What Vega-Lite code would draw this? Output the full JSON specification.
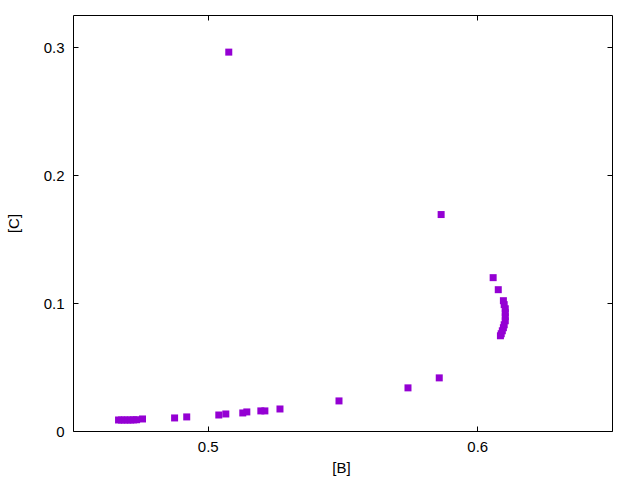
{
  "$schema": "https://vega.github.io/schema/vega-lite/v6.json",
  "autosize": "none",
  "width": 539,
  "height": 416,
  "padding": {"left": 73, "top": 15, "right": 28, "bottom": 49},
  "background": "white",
  "config": {
    "view": {"stroke": "black", "strokeWidth": 1},
    "font": "Liberation Sans",
    "axis": {
      "domain": false,
      "grid": false,
      "tickColor": "black",
      "tickSize": -5,
      "labelFont": "Liberation Sans",
      "labelFontSize": 15,
      "labelColor": "black",
      "titleFont": "Liberation Sans",
      "titleFontSize": 15,
      "titleFontWeight": "normal",
      "titleColor": "black"
    }
  },
  "data": {
    "values": [
      {"B": 0.4669, "C": 0.0086},
      {"B": 0.4680, "C": 0.0086},
      {"B": 0.4691, "C": 0.0086},
      {"B": 0.4703, "C": 0.0086},
      {"B": 0.4714, "C": 0.0086},
      {"B": 0.4725, "C": 0.0087},
      {"B": 0.4736, "C": 0.0088},
      {"B": 0.4758, "C": 0.0094},
      {"B": 0.4877, "C": 0.0102},
      {"B": 0.4922, "C": 0.0110},
      {"B": 0.5041, "C": 0.0125},
      {"B": 0.5067, "C": 0.0133},
      {"B": 0.5130, "C": 0.0141},
      {"B": 0.5145, "C": 0.0149},
      {"B": 0.5197, "C": 0.0157},
      {"B": 0.5212, "C": 0.0157},
      {"B": 0.5268, "C": 0.0172},
      {"B": 0.5487, "C": 0.0235},
      {"B": 0.5743, "C": 0.0337},
      {"B": 0.5859, "C": 0.0415},
      {"B": 0.5866, "C": 0.1691},
      {"B": 0.5078, "C": 0.2960},
      {"B": 0.6059, "C": 0.1198},
      {"B": 0.6078, "C": 0.1104},
      {"B": 0.6097, "C": 0.1018},
      {"B": 0.6100, "C": 0.0987},
      {"B": 0.6104, "C": 0.0955},
      {"B": 0.6104, "C": 0.0924},
      {"B": 0.6104, "C": 0.0893},
      {"B": 0.6104, "C": 0.0861},
      {"B": 0.6100, "C": 0.0830},
      {"B": 0.6097, "C": 0.0807},
      {"B": 0.6093, "C": 0.0783},
      {"B": 0.6089, "C": 0.0760},
      {"B": 0.6086, "C": 0.0744}
    ]
  },
  "layer": [
    {
      "mark": {"type": "point", "shape": "square", "filled": true, "size": 49, "color": "#9400D3", "opacity": 1},
      "encoding": {
        "x": {
          "field": "B", "type": "quantitative",
          "scale": {"domain": [0.45, 0.65], "nice": false, "zero": false},
          "axis": {"orient": "bottom", "values": [0.5, 0.6], "format": "~g", "title": "[B]", "labelPadding": 13, "titleX": 268, "titleY": 36, "titleBaseline": "middle", "titleAnchor": null}
        },
        "y": {
          "field": "C", "type": "quantitative",
          "scale": {"domain": [0, 0.325], "nice": false},
          "axis": {"orient": "left", "values": [0, 0.1, 0.2, 0.3], "format": "~g", "title": "[C]", "labelPadding": 14, "titleX": -60, "titleY": 208, "titleAngle": -90, "titleBaseline": "middle", "titleAnchor": null}
        }
      }
    },
    {
      "mark": {"type": "point", "opacity": 0},
      "encoding": {
        "x": {
          "field": "B", "type": "quantitative",
          "scale": {"domain": [0.45, 0.65], "nice": false, "zero": false},
          "axis": {"orient": "top", "values": [0.5, 0.6], "labels": false, "title": null}
        },
        "y": {
          "field": "C", "type": "quantitative",
          "scale": {"domain": [0, 0.325], "nice": false},
          "axis": {"orient": "right", "values": [0, 0.1, 0.2, 0.3], "labels": false, "title": null}
        }
      }
    }
  ],
  "resolve": {"axis": {"x": "independent", "y": "independent"}}
}
